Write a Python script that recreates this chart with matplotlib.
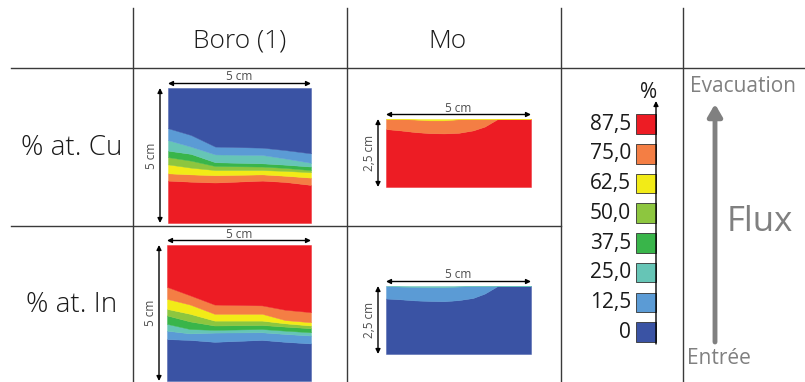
import matplotlib
matplotlib.use("Agg")
import matplotlib.pyplot as plt
from matplotlib.patches import Rectangle

plt.rcParams['font.family'] = ['Open Sans', 'DejaVu Sans']

# ---------------- data ----------------
COLUMNS = ["Boro (1)", "Mo"]
ROWS = ["% at. Cu", "% at. In"]

LEVEL_VALUES = [87.5, 75.0, 62.5, 50.0, 37.5, 25.0, 12.5, 0.0]
LEVEL_LABELS = ["87,5", "75,0", "62,5", "50,0", "37,5", "25,0", "12,5", "0"]
LEVEL_COLORS = ['#ED1C24', '#F47E44', '#F2EB17', '#8DC63F',
                '#39B54A', '#66C5B6', '#5B9BD5', '#3A53A4']

# Boro: 5 cm x 5 cm, iso-lines (height in cm) at x stations (cm)
BORO_W, BORO_H = 5.0, 5.0
BORO_X = [0.0, 0.8, 1.65, 3.3, 4.1, 5.0]
# Cu : bins from bottom (inlet) to top (outlet)
BORO_CU_BINS = [87.5, 75.0, 62.5, 50.0, 37.5, 25.0, 12.5, 0.0]
BORO_CU_LINES = [
    [1.57, 1.53, 1.50, 1.57, 1.52, 1.41],   # 87.5
    [1.84, 1.80, 1.77, 1.80, 1.75, 1.68],   # 75.0
    [2.17, 2.05, 1.96, 1.96, 1.93, 1.88],   # 62.5
    [2.44, 2.31, 2.11, 2.09, 2.04, 1.96],   # 50.0
    [2.68, 2.56, 2.25, 2.21, 2.16, 2.09],   # 37.5
    [3.07, 2.83, 2.54, 2.52, 2.39, 2.23],   # 25.0
    [3.51, 3.26, 2.83, 2.79, 2.70, 2.58],   # 12.5
]
# In
BORO_IN_BINS = [0.0, 12.5, 25.0, 37.5, 50.0, 62.5, 75.0, 87.5]
BORO_IN_LINES = [
    [1.54, 1.51, 1.44, 1.51, 1.44, 1.38],   # 12.5
    [1.85, 1.75, 1.78, 1.79, 1.73, 1.67],   # 25.0
    [2.10, 1.91, 1.88, 1.91, 1.85, 1.79],   # 37.5
    [2.41, 2.19, 2.04, 2.06, 2.00, 1.94],   # 50.0
    [2.65, 2.47, 2.22, 2.22, 2.12, 2.04],   # 62.5
    [3.02, 2.81, 2.47, 2.47, 2.24, 2.16],   # 75.0
    [3.46, 3.15, 2.81, 2.78, 2.62, 2.53],   # 87.5
]

# Mo: 5 cm x 2.5 cm
MO_W, MO_H = 5.0, 2.5
MO_X = [0.0, 0.5, 1.0, 1.5, 2.0, 2.5, 3.0, 3.4, 3.85, 5.0]
MO_CU_BINS = [87.5, 75.0, 62.5]
MO_CU_LINES = [
    [2.13, 2.08, 2.02, 1.98, 1.97, 1.99, 2.08, 2.22, 2.50, 2.50],
    [2.50, 2.50, 2.48, 2.45, 2.45, 2.49, 2.50, 2.50, 2.50, 2.50],
]
MO_IN_BINS = [0.0, 12.5, 25.0]
MO_IN_LINES = [
    [2.04, 2.01, 1.97, 1.95, 1.94, 1.98, 2.06, 2.22, 2.50, 2.50],
    [2.50, 2.48, 2.47, 2.46, 2.46, 2.48, 2.50, 2.50, 2.50, 2.50],
]

# ---------------- layout ----------------
W, H = 805, 382
fig = plt.figure(figsize=(W / 100, H / 100), dpi=100)
ov = fig.add_axes([0, 0, 1, 1])
ov.set_xlim(0, W)
ov.set_ylim(H, 0)
ov.axis('off')

LINE_C = '#3a3a3a'
GRAY = '#808080'
TXT = '#1a1a1a'

# table grid
ov.plot([11, W], [68, 68], color=LINE_C, lw=1.0)
ov.plot([11, 561], [226, 226], color=LINE_C, lw=1.0)
for xv in [133, 347, 561, 683]:
    ov.plot([xv, xv], [8, H], color=LINE_C, lw=1.0)

# headers
ov.text(240, 41, COLUMNS[0], fontsize=19, ha='center', va='center', color=TXT, fontweight='light')
ov.text(447, 41, COLUMNS[1], fontsize=19, ha='center', va='center', color=TXT, fontweight='light')
ov.text(72, 148, ROWS[0], fontsize=20, ha='center', va='center', color=TXT, fontweight='light')
ov.text(72, 305, ROWS[1], fontsize=20, ha='center', va='center', color=TXT, fontweight='light')


def color_of(v):
    return LEVEL_COLORS[LEVEL_VALUES.index(v)]


def panel(rect_px, xs, bins, lines, wcm, hcm, hlabel, vlabel):
    x0, y0, x1, y1 = rect_px
    ax = fig.add_axes([x0 / W, 1 - y1 / H, (x1 - x0) / W, (y1 - y0) / H])
    edges = [0.0] + lines + [hcm]
    for i, b in enumerate(bins):
        ax.fill_between(xs, edges[i], edges[i + 1], color=color_of(b), lw=0.3,
                        edgecolor=color_of(b))
    ax.set_xlim(0, wcm)
    ax.set_ylim(0, hcm)
    ax.axis('off')
    ap = dict(arrowstyle='<|-|>', lw=1.0, color='black', mutation_scale=7,
              shrinkA=0, shrinkB=0)
    # horizontal scale arrow
    ov.annotate('', xy=(x0, y0 - 4.5), xytext=(x1, y0 - 4.5), arrowprops=ap)
    ov.text((x0 + x1) / 2, y0 - 11, hlabel, fontsize=8.5, ha='center', va='center',
            color='#4d4d4d')
    # vertical scale arrow
    ov.annotate('', xy=(x0 - 8, y0), xytext=(x0 - 8, y1), arrowprops=ap)
    ov.text(x0 - 17, (y0 + y1) / 2, vlabel, fontsize=8.5, ha='center', va='center',
            rotation=90, color='#4d4d4d')
    return ax


panel((168, 88, 311, 223), BORO_X, BORO_CU_BINS, BORO_CU_LINES, BORO_W, BORO_H, "5 cm", "5 cm")
panel((167, 245, 311, 381), BORO_X, BORO_IN_BINS, BORO_IN_LINES, BORO_W, BORO_H, "5 cm", "5 cm")
panel((386, 119, 531, 187), MO_X, MO_CU_BINS, MO_CU_LINES, MO_W, MO_H, "5 cm", "2,5 cm")
panel((386, 286, 531, 354), MO_X, MO_IN_BINS, MO_IN_LINES, MO_W, MO_H, "5 cm", "2,5 cm")

# legend
for i, (lab, col) in enumerate(zip(LEVEL_LABELS, LEVEL_COLORS)):
    top = 114.3 + i * 29.7
    ov.add_patch(Rectangle((636, top), 20, 19.5, facecolor=col, edgecolor='#333333', lw=0.6))
    ov.text(631, top + 10, lab, fontsize=15, ha='right', va='center', color=TXT)
ov.annotate('', xy=(656, 101), xytext=(656, 344),
            arrowprops=dict(arrowstyle='-|>', lw=1.0, color='black', mutation_scale=7,
                            shrinkA=0, shrinkB=0))
ov.text(649, 92, '%', fontsize=15, ha='center', va='center', color=TXT)

# flux arrow
ov.annotate('', xy=(715, 104), xytext=(715, 342),
            arrowprops=dict(arrowstyle='-|>,head_length=0.6,head_width=0.35', lw=3.5,
                            color=GRAY, mutation_scale=12, shrinkA=0, shrinkB=0))
ov.text(690, 87, 'Evacuation', fontsize=15, ha='left', va='center', color=GRAY)
ov.text(687, 358, 'Entrée', fontsize=15, ha='left', va='center', color=GRAY)
ov.text(727, 222, 'Flux', fontsize=25, ha='left', va='center', color=GRAY)

fig.savefig('out.png', dpi=100)
